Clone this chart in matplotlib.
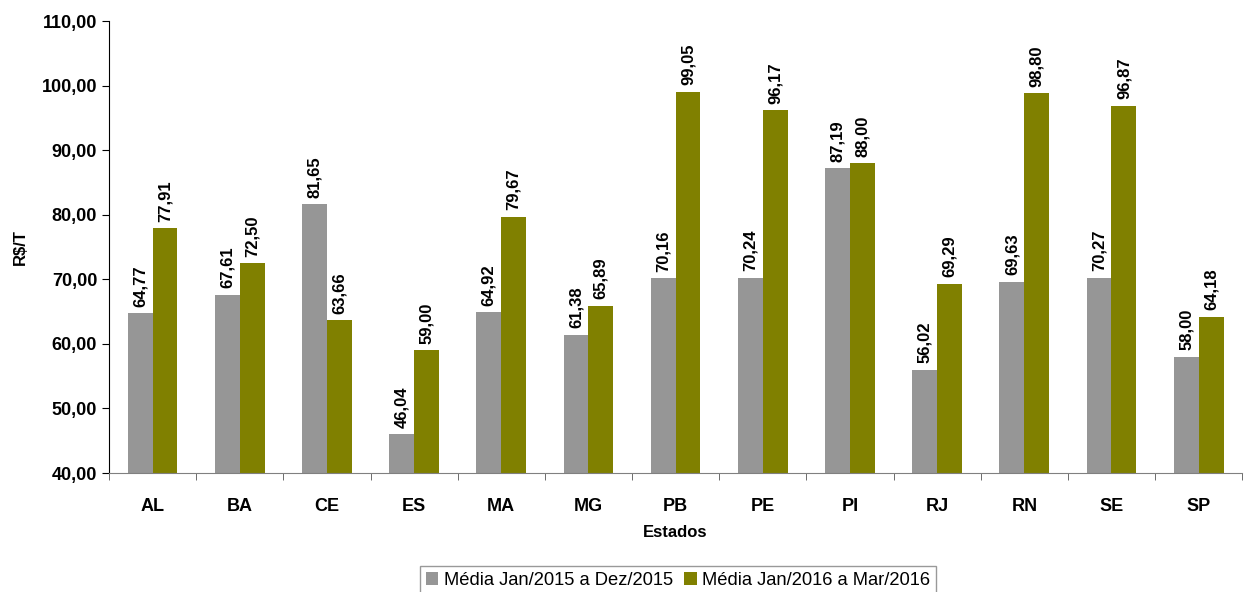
import matplotlib.pyplot as plt
import numpy as np

plt.rcParams["font.family"] = ["Liberation Sans", "DejaVu Sans"]

estados = ["AL", "BA", "CE", "ES", "MA", "MG", "PB", "PE", "PI", "RJ", "RN", "SE", "SP"]
media_2015 = [64.77, 67.61, 81.65, 46.04, 64.92, 61.38, 70.16, 70.24, 87.19, 56.02, 69.63, 70.27, 58.00]
media_2016 = [77.91, 72.50, 63.66, 59.00, 79.67, 65.89, 99.05, 96.17, 88.00, 69.29, 98.80, 96.87, 64.18]
yticks = [40, 50, 60, 70, 80, 90, 100, 110]


def fmt(v):
    return f"{v:.2f}".replace(".", ",")


fig = plt.figure(figsize=(12.44, 5.92), dpi=100)
ax = fig.add_axes([0.0876, 0.201, 0.911, 0.7635])

x = np.arange(len(estados))
w = 0.285
b1 = ax.bar(x - w / 2, media_2015, w, color="#969696", label="Média Jan/2015 a Dez/2015", zorder=2)
b2 = ax.bar(x + w / 2, media_2016, w, color="#808000", label="Média Jan/2016 a Mar/2016", zorder=2)

for bars, vals in ((b1, media_2015), (b2, media_2016)):
    for r, v in zip(bars, vals):
        ax.text(r.get_x() + r.get_width() / 2, v + 1.0, fmt(v), rotation=90,
                ha="center", va="bottom", fontsize=12, fontweight="bold")

ax.set_xlim(-0.5, len(estados) - 0.5)
ax.set_ylim(40, 110)
ax.set_yticks(yticks)
ax.set_yticklabels([fmt(v) for v in yticks], fontsize=13, fontweight="bold")
ax.set_xticks(x)
ax.set_xticklabels(estados, fontsize=13, fontweight="bold")
ax.tick_params(axis="x", length=0, pad=18)
ax.set_xticks(np.arange(len(estados) + 1) - 0.5, minor=True)
ax.tick_params(axis="x", which="minor", length=5, direction="out", color="#555555")
ax.tick_params(axis="y", length=5, direction="out")

ax.spines["top"].set_visible(False)
ax.spines["right"].set_visible(False)
ax.spines["bottom"].set_color("#808080")

ax.set_ylabel("R$/T", fontsize=12, fontweight="bold", labelpad=10)
ax.set_xlabel("Estados", fontsize=12, fontweight="bold", labelpad=7)

fig.legend(handles=[b1, b2], loc="upper center", bbox_to_anchor=(0.545, 1 - 557 / 592),
           ncol=2, fontsize=13.2, frameon=True, fancybox=False, edgecolor="#808080",
           handlelength=0.7, handleheight=0.7, handletextpad=0.3,
           columnspacing=0.6, borderpad=0.3)

fig.savefig("out.png", dpi=100)
